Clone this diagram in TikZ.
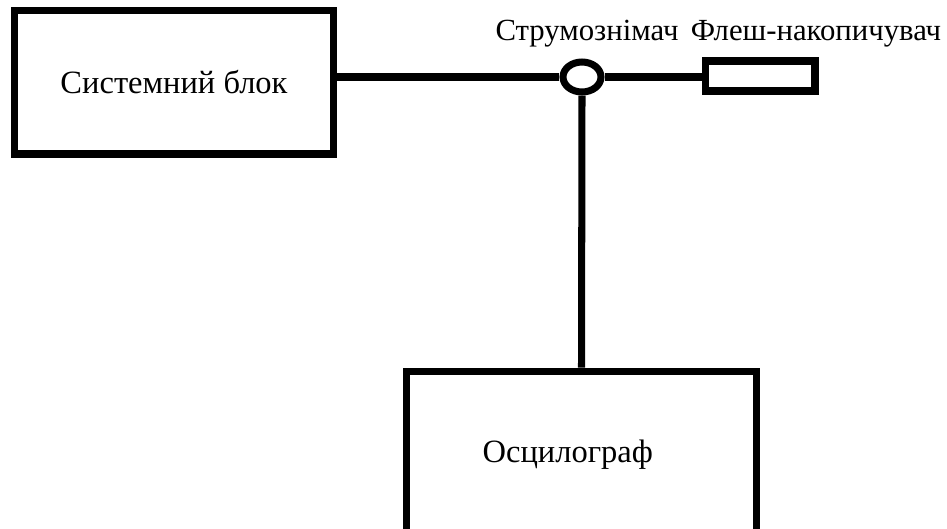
\documentclass[tikz,border=0pt]{standalone}
\usepackage{fontspec}
\setmainfont{Liberation Serif}
\usepackage{tikz}
\usetikzlibrary{shapes.geometric, positioning}

\begin{document}
\begin{tikzpicture}[x=0.02cm, y=-0.02cm, line width=4pt,
  block/.style={draw, rectangle, inner sep=0pt, font=\fontsize{18.5}{22}\selectfont},
  lbl/.style={font=\fontsize{17.5}{20}\selectfont}]
\clip (0,0) rectangle (947,528);
\fill[white] (0,0) rectangle (947,528);

% Blocks
\node[block, minimum width=6.4cm, minimum height=2.88cm] (sysblock) at (174,82) {Системний блок};
\node[block, minimum width=7.02cm, minimum height=3.36cm] (osc) at (581.5,455) {Осцилограф\kern0.55cm};
\node[block, minimum width=2.2cm, minimum height=0.6cm] (flash) at (760,76) {};

% Current probe
\node[draw, ellipse, inner sep=0pt, minimum width=0.76cm, minimum height=0.6cm] (probe) at (582,77) {};

% Labels
\node[lbl] (probelbl) at (587,34) {Струмознімач};
\node[lbl] (flashlbl) at (816,34) {Флеш-накопичувач};

% Wiring
\draw (probe.west) -- (probe.west -| sysblock.east);
\draw (probe.east) -- (probe.east -| flash.west);
\draw (probe.south) -- (osc.north);
\end{tikzpicture}
\end{document}
